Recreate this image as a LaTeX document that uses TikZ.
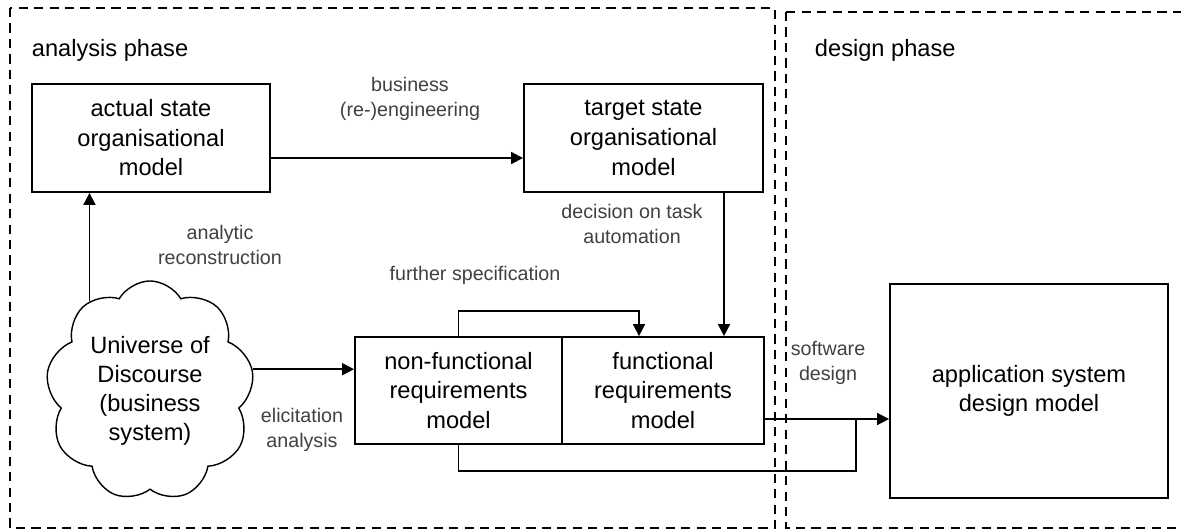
\documentclass[tikz,border=0pt]{standalone}
\usepackage{fontspec}
\setmainfont{Liberation Sans}
\usetikzlibrary{shapes.symbols}
\usetikzlibrary{arrows.meta}
\tikzset{phase/.style={draw, line width=0.9pt, dash pattern=on 6.5pt off 4.5pt}}
\tikzset{model/.style={draw, line width=1.3pt, align=center, inner sep=0pt, font=\fontsize{16.8}{21}\selectfont}}
\tikzset{lbl/.style={align=center, text=black!75, font=\fontsize{14}{17.6}\selectfont}}
\tikzset{flow/.style={line width=1.3pt, -{Triangle[length=8.5pt, width=8.5pt]}}}

\begin{document}
\begin{tikzpicture}[x=0.025cm, y=-0.025cm]
	\useasboundingbox (0,0) rectangle (1181,531);
	\clip (0,0) rectangle (1181,531);

	% Phases
	\draw[phase] (10,8) rectangle (775,528);
	\draw[phase] (786,12) rectangle (1195,528);
	\node[anchor=base west, font=\fontsize{16.8}{21}\selectfont] (ana) at (27,57) {analysis phase};
	\node[anchor=base west, font=\fontsize{16.8}{21}\selectfont] (des) at (810,57) {design phase};

	% Models
	\node[model, minimum width=5.95cm, minimum height=2.7cm] (act) at (151,138) {actual state\\organisational\\model};
	\node[model, minimum width=5.975cm, minimum height=2.7cm] (tgt) at (643.5,138) {target state\\organisational\\model};
	\node[model, minimum width=5.175cm, minimum height=2.675cm] (nf) at (458.5,390.5) {non-functional\\requirements\\model};
	\node[model, minimum width=5.05cm, minimum height=2.675cm] (fr) at (663,390.5) {functional\\requirements\\model};
	\node[model, minimum width=6.95cm, minimum height=5.35cm] (asd) at (1029,391) {application system\\design model};
	\node[cloud, draw, cloud puffs=9, cloud puff arc=120, cloud ignores aspect, minimum width=5.2cm, minimum height=5.5cm,
		line width=1pt, align=center, inner sep=0pt, font=\fontsize{16.8}{20.5}\selectfont] (ud) at (150,391) {Universe of\\Discourse\\(business\\system)};

	% Bends
	\coordinate (reeng) at (400,158);
	\coordinate (auto) at (724,260);
	\coordinate (spec) at (639,311);
	\coordinate (swd) at (820,419);
	\coordinate (join) at (856,419);
	\coordinate (loop) at (856,471);

	% Connectors
	\draw[flow] (ud.124) -- (ud.124 |- act.south);
	\draw[flow] (ud.12) -- (ud.12 -| nf.west);
	\draw[flow] (reeng -| act.east) -- (reeng -| tgt.west);
	\draw[flow] (auto |- tgt.south) -- (auto |- fr.north);
	\draw[flow] (nf.north) |- (spec) -- (spec |- fr.north);
	\draw[flow] (swd -| fr.east) -- (swd -| asd.west);
	\draw[flow, -] (nf.south) |- (loop) -- (join);

	% Labels
	\node[lbl] (lreeng) at (410,99) {business\\(re-)engineering};
	\node[lbl] (lrec) at (220,245) {analytic\\reconstruction};
	\node[lbl] (lauto) at (632,224) {decision on task\\automation};
	\node[lbl] (lspec) at (475,275) {further specification};
	\node[lbl] (lelic) at (302,430) {elicitation\\analysis};
	\node[lbl] (lswd) at (828,363) {software\\design};
\end{tikzpicture}
\end{document}
